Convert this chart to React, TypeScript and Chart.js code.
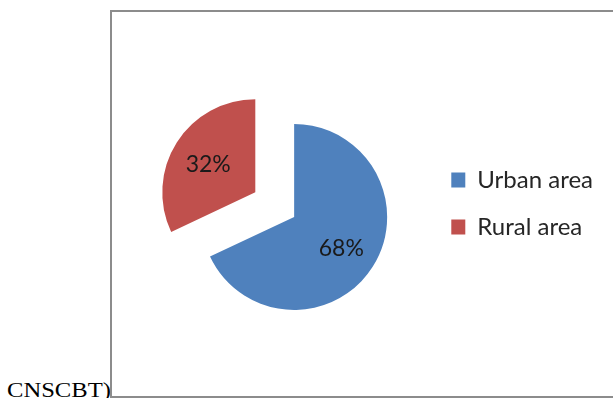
import React, { useEffect, useRef } from "react";
import { Chart, registerables } from "chart.js";

Chart.register(...registerables);

const categories: string[] = ["Urban area", "Rural area"];
const shares: number[] = [68, 32];
const sliceColors: string[] = ["#4f81bd", "#c0504d"];
const explodedIndex = 1;
const explodeDistance = 46;
const sourceText = "CNSCBT)";

const explodePlugin = {
  id: "explodeSlice",
  afterDatasetUpdate(chart: any, args: any) {
    const arc = args.meta.data[explodedIndex];
    if (!arc) return;
    const mid = (arc.startAngle + arc.endAngle) / 2;
    arc.x += Math.cos(mid) * explodeDistance;
    arc.y += Math.sin(mid) * explodeDistance;
  },
};

const pctLabelPlugin = {
  id: "pctLabels",
  afterDatasetsDraw(chart: any) {
    const meta = chart.getDatasetMeta(0);
    const ctx = chart.ctx;
    ctx.save();
    ctx.font = "23px Lato";
    ctx.fillStyle = "#1a1a1a";
    ctx.textAlign = "center";
    ctx.textBaseline = "middle";
    meta.data.forEach((arc: any, i: number) => {
      const mid = (arc.startAngle + arc.endAngle) / 2;
      const r = arc.outerRadius * 0.6;
      ctx.fillText(shares[i] + "%", arc.x + Math.cos(mid) * r, arc.y + Math.sin(mid) * r + 2);
    });
    ctx.restore();
  },
};

export default function App() {
  const canvasRef = useRef<HTMLCanvasElement | null>(null);

  useEffect(() => {
    if (!canvasRef.current) return;
    const chart = new Chart(canvasRef.current, {
      type: "pie",
      data: {
        labels: categories,
        datasets: [
          {
            data: shares,
            backgroundColor: sliceColors,
            borderWidth: 0,
            radius: 93,
            clip: false,
          } as any,
        ],
      },
      options: {
        responsive: false,
        animation: false,
        devicePixelRatio: 1,
        events: [],
        layout: { padding: { left: 48, right: 10, top: 133, bottom: 107 } },
        plugins: {
          legend: {
            position: "right",
            align: "start",
            labels: {
              boxWidth: 14,
              boxHeight: 15,
              padding: 23,
              color: "#262626",
              font: { family: "Lato", size: 24 },
            },
          },
          tooltip: { enabled: false },
        },
      } as any,
      plugins: [explodePlugin, pctLabelPlugin],
    });
    return () => chart.destroy();
  }, []);

  return (
    <div
      style={{
        position: "fixed",
        left: 0,
        top: 0,
        width: 613,
        height: 398,
        overflow: "hidden",
        background: "#fff",
      }}
    >
      <span
        style={{
          position: "absolute",
          left: 7,
          top: 380,
          font: "20px 'Liberation Serif', 'Times New Roman', serif",
          lineHeight: "20px",
          whiteSpace: "nowrap",
          transform: "scaleX(1.23)",
          transformOrigin: "left top",
          color: "#000",
        }}
      >
        {sourceText}
      </span>
      <div
        style={{
          position: "absolute",
          left: 110,
          top: 10,
          width: 620,
          height: 384,
          border: "2px solid #8c8c8c",
          background: "#fff",
        }}
      >
        <canvas
          ref={canvasRef}
          width={501}
          height={384}
          style={{ display: "block", width: 501, height: 384 }}
        />
      </div>
    </div>
  );
}
